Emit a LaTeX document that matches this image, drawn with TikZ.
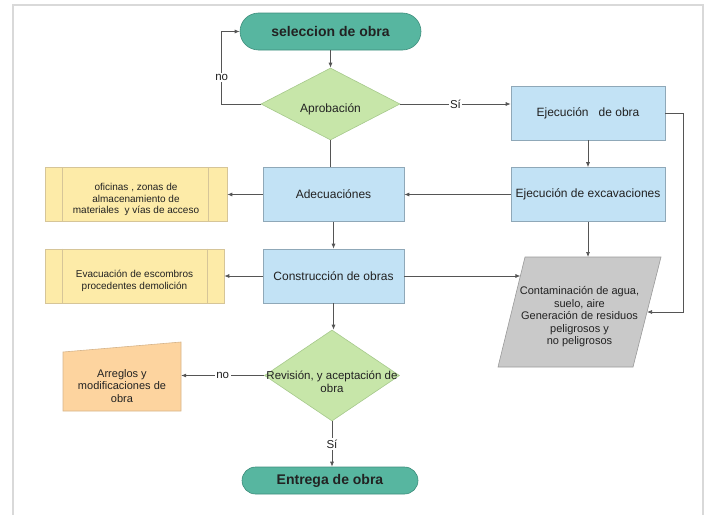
\documentclass[tikz,border=0pt]{standalone}
\usepackage{fontspec}
\setmainfont{Liberation Sans}
\usetikzlibrary{shapes.geometric,shapes.misc,arrows.meta,calc}

\definecolor{verdeazul}{HTML}{57B6A0}
\definecolor{verdeazulb}{HTML}{3E8E7C}
\definecolor{verdeclaro}{HTML}{C7E6A9}
\definecolor{verdeclarob}{HTML}{A6C98C}
\definecolor{azulclaro}{HTML}{C2E2F5}
\definecolor{azulclarob}{HTML}{8FA8B8}
\definecolor{amarillo}{HTML}{FDEBA8}
\definecolor{amarillob}{HTML}{D6C598}
\definecolor{grisp}{HTML}{C9C9C9}
\definecolor{grispb}{HTML}{9A9A9A}
\definecolor{naranja}{HTML}{FDD49F}
\definecolor{naranjab}{HTML}{D6B48A}
\definecolor{linea}{HTML}{555555}
\definecolor{texto}{HTML}{222222}

\tikzset{
  terminal/.style={rounded rectangle, draw=verdeazulb, fill=verdeazul, line width=0.6pt,
    inner sep=0pt, text=texto, font=\fontsize{14}{16}\selectfont\bfseries},
  decision/.style={diamond, draw=verdeclarob, fill=verdeclaro, line width=0.6pt, inner sep=0pt},
  proceso/.style={rectangle, draw=azulclarob, fill=azulclaro, line width=0.6pt, inner sep=0pt,
    minimum width=141, minimum height=54, align=center, text=texto, font=\fontsize{12}{14}\selectfont},
  predef/.style={rectangle, draw=amarillob, fill=amarillo, line width=0.6pt, inner sep=0pt,
    minimum height=54},
  predeftxt/.style={align=center, text=texto, font=\fontsize{10}{11.5}\selectfont, yshift=-5pt},
  datos/.style={draw=grispb, fill=grisp, line width=0.6pt},
  flecha/.style={draw=linea, line width=0.7pt, -{Latex[length=5pt,width=4pt]}},
  recta/.style={draw=linea, line width=0.7pt},
  etiq/.style={fill=white, inner sep=1.5pt, text=texto, font=\fontsize{11.5}{13}\selectfont}
}

\begin{document}
\begin{tikzpicture}[x=1pt,y=-1pt]
    \useasboundingbox (0,0) rectangle (712,514);
    \draw[draw=black!15, line width=1.2pt] (13,5) rectangle (703,540);

    \node[terminal, minimum width=181, minimum height=37] (sel) at (330.5,31.5) {seleccion de obra};
    \node[decision, minimum width=139, minimum height=72,
      label={[text=texto, font=\fontsize{12}{14}\selectfont, yshift=-5pt]center:Aprobación}] (aprob) at (330.5,104) {};
    \node[proceso, minimum width=154] (obra) at (588,113) {Ejecución\ \ \ de obra};
    \node[proceso, minimum width=154] (excav) at (588,194.5) {Ejecución de excavaciones};
    \node[proceso] (adec) at (333.5,194.5) {Adecuaciónes};
    \node[predef, minimum width=182,
      label={[predeftxt]center:{oficinas , zonas de\\almacenamiento de\\materiales\ \ y vías de acceso}}]
      (ofic) at (136,194.5) {};
    \node[proceso] (constr) at (333.5,276) {Construcción de obras};
    \node[predef, minimum width=179,
      label={[predeftxt]center:{Evacuación de escombros\\procedentes demolición}}]
      (evac) at (134.5,276) {};
    \coordinate (gA) at (498,367);
    \coordinate (gB) at (525,257);
    \coordinate (gC) at (661,257);
    \coordinate (gD) at (633,367);
    \filldraw[datos] (gA) -- (gB) -- (gC) -- (gD) -- cycle;
    \node[align=center, inner sep=0pt, text=texto, font=\fontsize{11}{12.5}\selectfont] (gris) at (579.5,317)
      {Contaminación de agua,\\suelo, aire\\Generación de residuos\\peligrosos y\\no peligrosos};
    \node[decision, minimum width=135, minimum height=91,
      label={[align=center, text=texto, font=\fontsize{11.5}{13}\selectfont, yshift=-6pt]center:{Revisión, y aceptación de\\obra}}]
      (revis) at (332,375.5) {};
    \filldraw[draw=naranjab, fill=naranja, line width=0.6pt] (63,352) -- (181,342) -- (181,411) -- (63,411) -- cycle;
    \node[align=center, inner sep=0pt, minimum width=118, minimum height=50, text=texto,
      font=\fontsize{11}{12.5}\selectfont] (arreg) at (122,386) {Arreglos y\\modificaciones de\\obra};
    \node[terminal, minimum width=176, minimum height=27] (entrega) at (330,480.5) {Entrega de obra};

    \draw[draw=amarillob, line width=0.6pt] ([xshift=18]ofic.north west) -- ([xshift=18]ofic.south west)
      ([xshift=-19]ofic.north east) -- ([xshift=-19]ofic.south east);
    \draw[draw=amarillob, line width=0.6pt] ([xshift=18]evac.north west) -- ([xshift=18]evac.south west)
      ([xshift=-17]evac.north east) -- ([xshift=-17]evac.south east);

    \draw[flecha] (sel.south) -- (aprob.north);
    \draw[flecha] (aprob.west) -- ++(-39,0) coordinate (vuelta)
      -- node[etiq, pos=0.37] {no} (vuelta |- sel.west) -- (sel.west);
    \draw[flecha] (aprob.east) -- node[etiq] {Sí} (aprob.east -| obra.west);
    \draw[recta] (aprob.south) -- (aprob.south |- adec.north);
    \draw[flecha] (obra.south) -- (excav.north);
    \coordinate (bordede) at ($(gD)!0.5!(gC)$);
    \draw[flecha] (obra.east) -- ++(18,0) |- (bordede);
    \draw[flecha] (excav.west) -- (adec.east);
    \draw[flecha] (excav.south) -- (excav.south |- gB);
    \draw[flecha] (adec.west) -- (ofic.east);
    \draw[flecha] (adec.south) -- (constr.north);
    \draw[flecha] (constr.west) -- (evac.east);
    \coordinate (bordeiz) at ($(gA)!0.83!(gB)$);
    \draw[flecha] (constr.east) -- (constr.east -| bordeiz);
    \draw[flecha] (constr.south) -- (constr.south |- revis.north);
    \draw[flecha] (revis.west) -- node[etiq] {no} (revis.west -| arreg.east);
    \draw[flecha] (revis.south) -- node[etiq] {Sí} (revis.south |- entrega.north);
\end{tikzpicture}
\end{document}
